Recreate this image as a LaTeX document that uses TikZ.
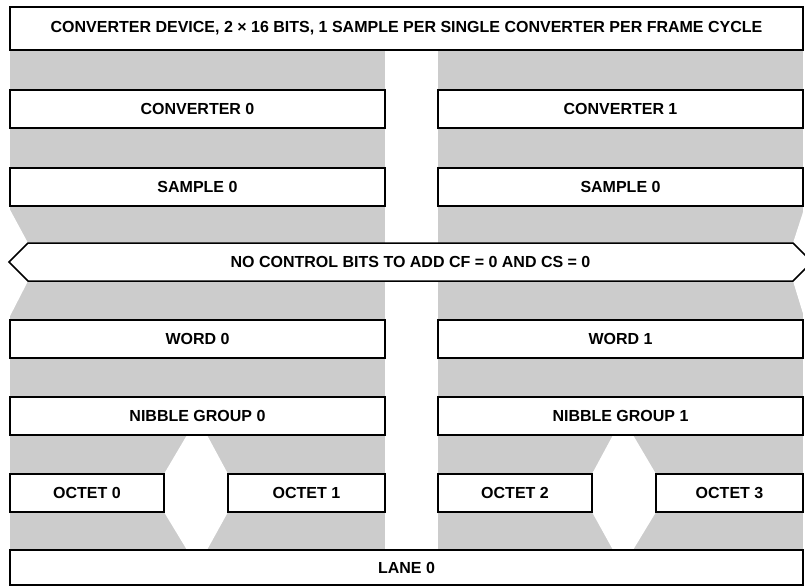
\documentclass[tikz,border=0pt]{standalone}
\usepackage{fontspec}
\setmainfont{Liberation Sans}
\usetikzlibrary{shapes.symbols}
\definecolor{bandgray}{RGB}{204,204,204}
\begin{document}
\begin{tikzpicture}[
  x=1pt,y=-1pt,
  font=\bfseries\fontsize{16}{19}\selectfont,
  box/.style={rectangle,draw=black,line width=1.5pt,fill=white,
              minimum height=38pt,inner sep=0pt},
  half/.style={box,minimum width=375pt},
  rhalf/.style={box,minimum width=365pt},
  octbox/.style={box,minimum width=155pt},
  banner/.style={signal,signal to=west and east,signal pointer angle=90,
                 draw=black,line width=1.5pt,fill=white,
                 minimum height=38pt,minimum width=803pt,inner sep=0pt},
  cut/.style={fill=white},
]
\useasboundingbox (0,0) rectangle (805,588);

% grey bands behind the two converters
\fill[bandgray] (10,50) rectangle (385,550);
\fill[bandgray] (438,50) rectangle (803,550);

% white cut-outs next to the banner and between the octets
\fill[cut] (8,206) -- (28,243) -- (28,281) -- (8,320) -- cycle;
\fill[cut] (805,206) -- (793,243) -- (793,281) -- (805,320) -- cycle;
\fill[cut] (187,435) -- (164,474) -- (164,512) -- (187,550)
        -- (207,550) -- (228,512) -- (228,474) -- (207,435) -- cycle;
\fill[cut] (613,435) -- (592,474) -- (592,512) -- (613,550)
        -- (633,550) -- (656,512) -- (656,474) -- (633,435) -- cycle;

\node[box,minimum width=793pt,minimum height=43pt] (dev) at (406.5,28.5)
   {CONVERTER DEVICE, 2 × 16 BITS, 1 SAMPLE PER SINGLE CONVERTER PER FRAME CYCLE};

\node[half]  (conv0) at (197.5,109) {CONVERTER 0};
\node[rhalf] (conv1) at (620.5,109) {CONVERTER 1};
\node[half]  (samp0) at (197.5,187) {SAMPLE 0};
\node[rhalf] (samp1) at (620.5,187) {SAMPLE 0};

\node[banner] (ctrl) at (410.5,262) {NO CONTROL BITS TO ADD CF = 0 AND CS = 0};

\node[half]  (word0) at (197.5,339) {WORD 0};
\node[rhalf] (word1) at (620.5,339) {WORD 1};
\node[half]  (nib0)  at (197.5,416) {NIBBLE GROUP 0};
\node[rhalf] (nib1)  at (620.5,416) {NIBBLE GROUP 1};

\node[octbox,minimum width=154pt] (oct0) at (87,493)    {OCTET 0};
\node[octbox,minimum width=157pt] (oct1) at (306.5,493) {OCTET 1};
\node[octbox,minimum width=154pt] (oct2) at (515,493)   {OCTET 2};
\node[octbox,minimum width=147pt] (oct3) at (729.5,493) {OCTET 3};

\node[box,minimum width=793pt,minimum height=35pt] (lane) at (406.5,567.5) {LANE 0};
\end{tikzpicture}
\end{document}
